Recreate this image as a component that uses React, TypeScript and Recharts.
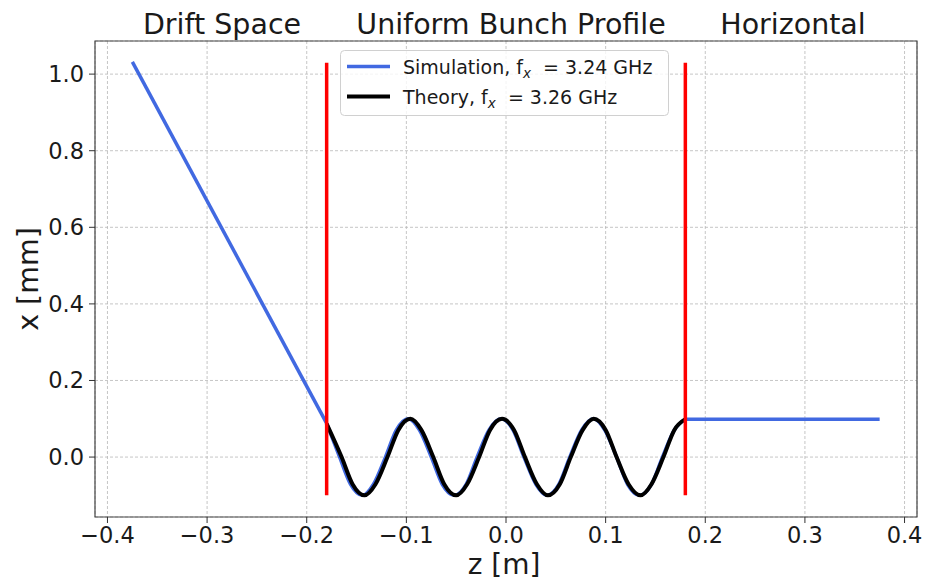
import React from "react"
import { ComposedChart, Line, XAxis, YAxis, CartesianGrid, ReferenceArea } from "recharts"

// values
const driftZ = [-0.375, -0.18]
const driftX = [1.032, 0.088]

const simZ = [
  -0.180, -0.167, -0.156, -0.144, -0.133, -0.121, -0.110, -0.098, -0.087, -0.075, -0.064,
  -0.052, -0.040, -0.029, -0.017, -0.005, 0.007, 0.018, 0.030, 0.041, 0.053, 0.064,
  0.076, 0.088, 0.099, 0.111, 0.122, 0.134, 0.146, 0.157, 0.169, 0.180,
]
const simX = [
  0.088, 0.000, -0.071, -0.100, -0.071, 0.000, 0.071, 0.100, 0.071, 0.000, -0.071,
  -0.100, -0.071, 0.000, 0.071, 0.100, 0.071, 0.000, -0.071, -0.100, -0.071, 0.000,
  0.071, 0.100, 0.071, 0.000, -0.071, -0.100, -0.071, 0.000, 0.071, 0.099,
]

const theoryZ = [
  -0.180, -0.165, -0.154, -0.142, -0.131, -0.119, -0.108, -0.096, -0.085, -0.073, -0.062,
  -0.050, -0.039, -0.027, -0.016, -0.004, 0.008, 0.019, 0.031, 0.042, 0.054, 0.065,
  0.077, 0.088, 0.100, 0.111, 0.123, 0.135, 0.146, 0.158, 0.169, 0.180,
]
const theoryX = [
  0.087, 0.000, -0.071, -0.100, -0.071, 0.000, 0.071, 0.100, 0.071, 0.000, -0.071,
  -0.100, -0.071, 0.000, 0.071, 0.100, 0.071, 0.000, -0.071, -0.100, -0.071, 0.000,
  0.071, 0.100, 0.071, 0.000, -0.071, -0.100, -0.071, 0.000, 0.071, 0.099,
]

const horizZ = [0.18, 0.375]
const horizX = [0.099, 0.099]

const boundaryZ = [-0.18, 0.18]
const boundaryX = [-0.1, 1.03]

const xTicks = [-0.4, -0.3, -0.2, -0.1, 0.0, 0.1, 0.2, 0.3, 0.4]
const yTicks = [0.0, 0.2, 0.4, 0.6, 0.8, 1.0]

const sectionTitles = [
  { label: "Drift Space", cx: 222 },
  { label: "Uniform Bunch Profile", cx: 511 },
  { label: "Horizontal", cx: 793 },
]

const zip = (zs: number[], xs: number[]) => zs.map((z, i) => ({ z, x: xs[i] }))

const FONT = "DejaVu Sans, Verdana, sans-serif"
const fmt = (v: number) => (v < 0 ? "\u2212" + Math.abs(v).toFixed(1) : v.toFixed(1))

export default function App() {
  const drift = zip(driftZ, driftX)
  const sim = zip(simZ, simX)
  const theory = zip(theoryZ, theoryX)
  const horiz = zip(horizZ, horizX)
  const red = boundaryZ.map((z) => boundaryX.map((x) => ({ z, x })))

  return (
    <div style={{ position: "absolute", left: 0, top: 0, width: 925, height: 582, background: "#fff" }}>
      <ComposedChart width={925} height={582} margin={{ top: 41, right: 8, bottom: 35, left: 35 }}>
        <CartesianGrid stroke="#b8b8b8" strokeDasharray="3 2" strokeWidth={0.8} />
        <XAxis
          type="number" dataKey="z" domain={[-0.4125, 0.4125]} ticks={xTicks} allowDataOverflow
          tickFormatter={fmt} height={30} tickSize={6} tickMargin={4}
          axisLine={false} tickLine={{ stroke: "#333" }}
          tick={{ fill: "#1a1a1a", fontSize: 22.5, fontFamily: FONT }}
        />
        <YAxis
          type="number" dataKey="x" domain={[-0.1565, 1.0865]} ticks={yTicks} allowDataOverflow
          tickFormatter={fmt} width={60} tickSize={6} tickMargin={5}
          axisLine={false} tickLine={{ stroke: "#333" }}
          tick={{ fill: "#1a1a1a", fontSize: 22.5, fontFamily: FONT }}
        />
        <ReferenceArea x1={-0.4125} x2={0.4125} y1={-0.1565} y2={1.0865} fill="none" stroke="#444" strokeWidth={1.2} />
        <Line data={drift} dataKey="x" type="linear" stroke="#4169e1" strokeWidth={3.5} dot={false} isAnimationActive={false} />
        <Line data={sim} dataKey="x" type="monotone" stroke="#4169e1" strokeWidth={3.5} dot={false} isAnimationActive={false} />
        <Line data={horiz} dataKey="x" type="linear" stroke="#4169e1" strokeWidth={3.5} dot={false} isAnimationActive={false} />
        <Line data={theory} dataKey="x" type="monotone" stroke="#000" strokeWidth={4} dot={false} isAnimationActive={false} />
        {red.map((d, i) => (
          <Line key={i} data={d} dataKey="x" type="linear" stroke="#ff0000" strokeWidth={3.5} dot={false} isAnimationActive={false} />
        ))}
      </ComposedChart>
      <svg width={925} height={582} style={{ position: "absolute", left: 0, top: 0, pointerEvents: "none" }} fontFamily={FONT}>
        {sectionTitles.map((t) => (
          <text key={t.label} x={t.cx} y={34} textAnchor="middle" fontSize={28.5} fill="#1a1a1a">{t.label}</text>
        ))}
        <text x={504} y={574} textAnchor="middle" fontSize={28} fill="#1a1a1a">z [m]</text>
        <text x={38} y={279} textAnchor="middle" fontSize={28.5} fill="#1a1a1a" transform="rotate(-90 38 279)">x [mm]</text>
        <rect x={340.5} y={50.5} width={328} height={65} rx={4} fill="#fff" fillOpacity={0.8} stroke="#d0d0d0" />
        <line x1={347} x2={390} y1={66.5} y2={66.5} stroke="#4169e1" strokeWidth={3.5} />
        <line x1={347} x2={390} y1={96.5} y2={96.5} stroke="#000" strokeWidth={4} />
        <text x={403} y={73.5} fontSize={19} fill="#1a1a1a">
          Simulation, f<tspan fontStyle="italic" fontSize={13.5} dy={4}>x</tspan>
          <tspan dy={-4}>{"\u00a0\u00a0= 3.24 GHz"}</tspan>
        </text>
        <text x={403} y={103.5} fontSize={19} fill="#1a1a1a">
          Theory, f<tspan fontStyle="italic" fontSize={13.5} dy={4}>x</tspan>
          <tspan dy={-4}>{"\u00a0\u00a0= 3.26 GHz"}</tspan>
        </text>
      </svg>
    </div>
  )
}
